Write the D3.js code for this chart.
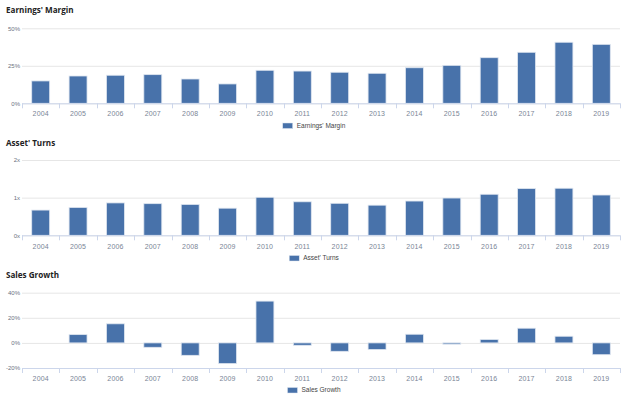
<!DOCTYPE html>
<html>
<head>
<meta charset="utf-8">
<script src="https://cdn.jsdelivr.net/npm/d3@7"></script>
<style>
  html, body { margin: 0; padding: 0; background: #ffffff; }
  svg { display: block; }
</style>
</head>
<body>
<svg id="chart" width="628" height="397"></svg>
<script>
// ---- data ----
const years = ["2004","2005","2006","2007","2008","2009","2010","2011","2012","2013","2014","2015","2016","2017","2018","2019"];
const earningsMargin = [14.9, 18.2, 18.7, 19.1, 16.2, 12.9, 22.0, 21.5, 20.7, 20.0, 23.7, 25.3, 30.4, 34.0, 40.7, 39.3];
const assetTurns = [0.67, 0.74, 0.86, 0.84, 0.82, 0.72, 1.01, 0.89, 0.85, 0.80, 0.91, 0.99, 1.09, 1.24, 1.25, 1.07];
const salesGrowth = [0, 6.6, 15.2, -3.5, -9.9, -16.5, 33.3, -1.9, -6.7, -5.3, 6.9, -1.0, 2.7, 11.7, 5.3, -9.4];
const marginTicks = [0, 25, 50];
const turnsTicks = [0, 1, 2];
const growthTicks = [-20, 0, 20, 40];
const titles = ["Earnings' Margin", "Asset' Turns", "Sales Growth"];

// ---- layout ----
const svg = d3.select("#chart");
const barColor = "#4872aa";
const gridColor = "#e6e6e6";
const axisColor = "#ccd6eb";
const labelColor = "#7a8596";
const fontFam = "'Liberation Sans', Arial, sans-serif";

const x = d3.scaleBand().domain(years).range([22, 620]).paddingInner(0.52).paddingOuter(0.26);

const panels = [
  { title: titles[0], values: earningsMargin, ticks: marginTicks, domain: [0, 50], range: [103.3, 28.3],
    fmt: d => d + "%", titleY: 13, labelY: 116.5, legendY: 125.5 },
  { title: titles[1], values: assetTurns, ticks: turnsTicks, domain: [0, 2], range: [235.3, 160],
    fmt: d => d + "x", titleY: 146, labelY: 249, legendY: 258 },
  { title: titles[2], values: salesGrowth, ticks: growthTicks, domain: [-20, 40], range: [368, 292.7],
    fmt: d => d + "%", titleY: 278, labelY: 381, legendY: 390 }
];

panels.forEach(p => {
  const y = d3.scaleLinear().domain(p.domain).range(p.range);
  const g = svg.append("g");

  // title
  g.append("text").attr("x", 6).attr("y", p.titleY)
    .attr("font-family", "'Open Sans', sans-serif").attr("font-weight", 700)
    .attr("font-size", 8.1).attr("fill", "#222").text(p.title);

  // gridlines + y labels
  const yAxis = d3.axisLeft(y).tickValues(p.ticks).tickSize(-(620 - 22)).tickFormat(p.fmt).tickPadding(2);
  const ya = g.append("g").attr("transform", "translate(22,0)").call(yAxis);
  ya.select(".domain").remove();
  ya.selectAll(".tick line").attr("stroke", gridColor).attr("stroke-width", 1);
  ya.selectAll(".tick text").attr("font-family", fontFam).attr("font-size", 6).attr("fill", "#6b7280")
    .attr("dy", "0.32em");

  // bars
  const base = y(0);
  g.selectAll("rect.bar").data(p.values).join("rect")
    .attr("class", "bar")
    .attr("x", (d, i) => x(years[i]))
    .attr("width", x.bandwidth())
    .attr("y", d => Math.min(y(d), base))
    .attr("height", d => Math.abs(y(d) - base))
    .attr("fill", barColor)
    .attr("stroke", "#dfe6f0").attr("stroke-width", 0.8);

  // x axis at bottom of plot
  const bottom = p.range[0];
  const xAxis = d3.axisBottom(x).tickSize(0).tickPadding(0);
  const xa = g.append("g").attr("transform", `translate(0,${bottom})`).call(xAxis);
  xa.select(".domain").attr("stroke", axisColor).attr("d", `M22,0.5H620`);
  xa.selectAll(".tick text").attr("font-family", fontFam).attr("font-size", 7).attr("fill", labelColor)
    .attr("letter-spacing", 0.15)
    .attr("y", p.labelY - bottom).attr("dy", 0);
  // category boundary tick marks
  xa.selectAll("line.bnd").data(years.concat(["end"])).join("line")
    .attr("class", "bnd")
    .attr("x1", (d, i) => Math.round(22 + i * x.step() - x.step() * x.paddingOuter() + x.step() * x.paddingOuter()) + 0.5)
    .attr("x2", (d, i) => Math.round(22 + i * x.step() - x.step() * x.paddingOuter() + x.step() * x.paddingOuter()) + 0.5)
    .attr("y1", 0).attr("y2", 5).attr("stroke", axisColor);

  // legend
  const lg = g.append("g");
  const lt = lg.append("text").attr("font-family", fontFam).attr("font-size", 6.5).attr("fill", "#444")
    .attr("y", p.legendY + 2.2).text(p.title);
  const tw = lt.node().getComputedTextLength();
  const total = 10 + 4 + tw;
  const lx = 314 - total / 2;
  lg.insert("rect", "text").attr("x", lx).attr("y", p.legendY - 2.5).attr("width", 10).attr("height", 5.5)
    .attr("fill", barColor).attr("stroke", "#dfe6f0").attr("stroke-width", 0.5);
  lt.attr("x", lx + 14);
});
</script>
</body>
</html>
